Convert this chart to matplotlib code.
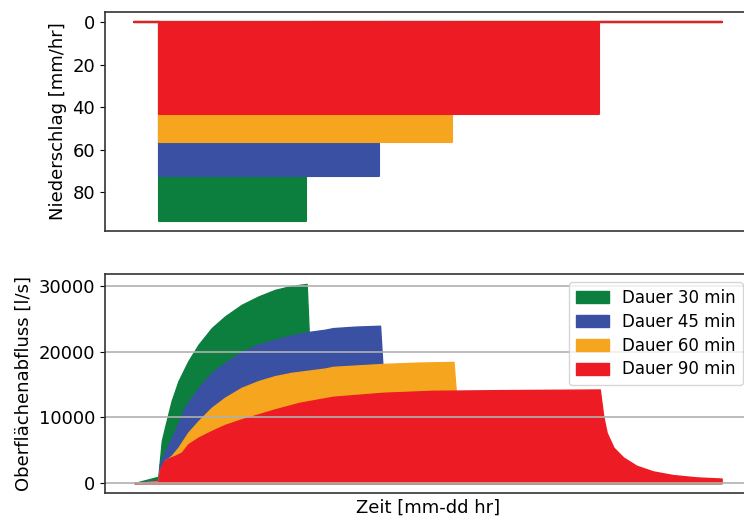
import matplotlib.pyplot as plt

# Daten

labels = ["Dauer 30 min", "Dauer 45 min", "Dauer 60 min", "Dauer 90 min"]
farben = ["#0c7f3e", "#3a51a3", "#f6a51e", "#ed1c24"]

regen_start = 5
regen_ende = 120
dauer = [30, 45, 60, 90]
intensitaet = [93.5, 72.5, 56.2, 43.4]

t_30 = [0, 4.9, 5.6, 6.25, 7.6, 9.0, 11.0, 13.1, 15.8, 18.5, 21.9, 25.3, 28.7, 32.1, 35.2,
        35.8, 36.5, 38, 40, 44, 49, 54, 60, 80, 120]
q_30 = [0, 960, 6400, 8430, 12470, 15500, 18530, 21060, 23580, 25350, 27120, 28380, 29390,
        30000, 30300, 20000, 15000, 10500, 7500, 4500, 2600, 1700, 1100, 400, 100]

t_45 = [0, 4.9, 5.2, 5.9, 8.3, 10.3, 13.1, 15.8, 18.5, 21.9, 25.3, 28.7, 32.1, 35.5, 38.9,
        40.6, 45, 50.2, 50.8, 51.5, 53, 55, 60, 65, 75, 120]
q_45 = [0, 500, 2880, 4140, 7930, 11460, 14490, 16770, 18280, 19950, 21060, 21820, 22470,
        22980, 23330, 23580, 23800, 23940, 16500, 12000, 8500, 6300, 3600, 2200, 1000, 150]

t_60 = [0, 4.9, 5.2, 6.25, 7.6, 9.0, 11.0, 13.1, 15.8, 18.5, 21.9, 25.3, 28.7, 32.1, 38.9,
        40.6, 50.9, 58, 65.2, 65.8, 66.5, 68, 70, 75, 80, 90, 120]
q_60 = [0, 300, 1870, 3380, 4140, 5400, 7680, 9440, 11460, 12980, 14490, 15500, 16260, 16770,
        17420, 17680, 18130, 18330, 18430, 12800, 9500, 6800, 4800, 2800, 1800, 900, 250]

t_90 = [0, 4.9, 5.2, 5.9, 6.9, 8.3, 9.7, 11.0, 13.1, 15.8, 18.5, 21.9, 25.3, 28.7, 33.8,
        40.6, 50.9, 61.1, 74.7, 95.1, 95.8, 96.5, 97.9, 99.9, 102.6, 106.0, 110.1, 114.9, 120]
q_90 = [0, 200, 1870, 3130, 3740, 4140, 4650, 5910, 6920, 7930, 8840, 9700, 10450, 11210,
        12220, 13130, 13740, 14040, 14140, 14240, 10200, 7680, 5400, 3890, 2630, 1770, 1210,
        860, 680]

abfluss_t = [t_30, t_45, t_60, t_90]
abfluss_q = [q_30, q_45, q_60, q_90]

# Grafik

fig = plt.figure(figsize=(7.44, 5.17), dpi=100)
ax1 = fig.add_axes([105 / 744, 1 - 231 / 517, 646 / 744, 219 / 517])
ax2 = fig.add_axes([105 / 744, 1 - 493 / 517, 646 / 744, 219 / 517])

for d, i, c in zip(dauer, intensitaet, farben):
    t = [0, regen_start, regen_start + d, regen_ende]
    r = [0, i, 0, 0]
    ax1.fill_between(t, 0, r, step="post", color=c, lw=1.5)

ax1.invert_yaxis()
ax1.set_xticks([])
ax1.set_yticks([0, 20, 40, 60, 80])
ax1.set_ylabel("Niederschlag [mm/hr]", fontsize=13)
ax1.tick_params(labelsize=13)

for t, q, c, l in zip(abfluss_t, abfluss_q, farben, labels):
    ax2.fill_between(t, 0, q, color=c, lw=1, label=l)

ax2.set_xticks([])
ax2.set_yticks([0, 10000, 20000, 30000])
ax2.grid(axis="y", color="#b0b0b0", lw=1.2)
ax2.set_ylabel("Oberflächenabfluss [l/s]", fontsize=13)
ax2.set_xlabel("Zeit [mm-dd hr]", fontsize=13)
ax2.tick_params(labelsize=13)
ax2.legend(loc="upper right", fontsize=12, labelspacing=0.35, handlelength=2.0)

for ax in (ax1, ax2):
    ax.set_xlim(-6, 126)
    for s in ax.spines.values():
        s.set_color("#333333")
        s.set_linewidth(1.2)

fig.savefig("out.png", dpi=100)
